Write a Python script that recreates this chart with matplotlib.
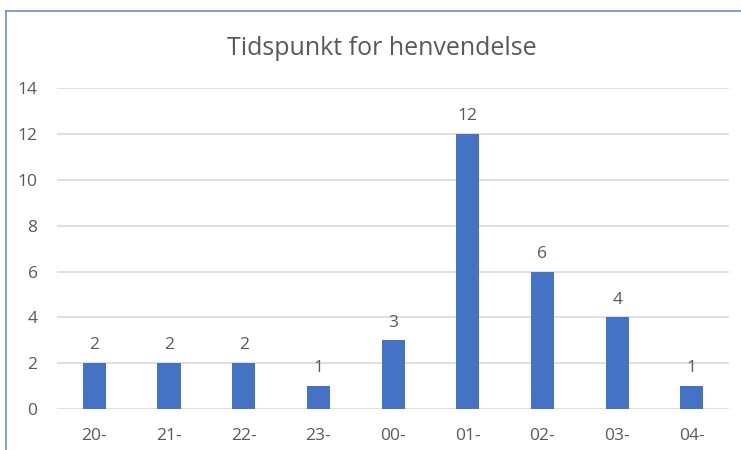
import matplotlib.pyplot as plt
from matplotlib.lines import Line2D

hours = ['20-', '21-', '22-', '23-', '00-', '01-', '02-', '03-', '04-']
counts = [2, 2, 2, 1, 3, 12, 6, 4, 1]

plt.rcParams['font.family'] = ['Open Sans', 'DejaVu Sans']
text_color = '#595959'

fig = plt.figure(figsize=(7.41, 4.5), dpi=100)
ax = fig.add_axes([0.077, 0.091, 0.907, 0.713])

x = range(len(hours))
bars = ax.bar(x, counts, width=0.31, color='#4472C4', zorder=3)
ax.bar_label(bars, padding=7, fontsize=12.5, color=text_color)

ax.set_xlim(-0.5, len(hours) - 0.5)
ax.set_ylim(0, 14)
ax.set_yticks(range(0, 15, 2))
ax.set_xticks(list(x))
ax.set_xticklabels(hours)
ax.tick_params(axis='both', length=0, labelsize=12.5, colors=text_color)
ax.tick_params(axis='x', pad=14)
ax.tick_params(axis='y', pad=14)
ax.grid(axis='y', color='#D9D9D9', linewidth=1.2, zorder=0)
for s in ax.spines.values():
    s.set_visible(False)

fig.text(0.515, 0.893, 'Tidspunkt for henvendelse', ha='center', va='center',
         fontsize=18, color=text_color)

# chart frame (left and top edges visible in the screenshot)
fig.add_artist(Line2D([6 / 741, 6 / 741], [0, 1 - 11 / 450], color='#6A8FD0', linewidth=1.2))
fig.add_artist(Line2D([6 / 741, 1], [1 - 11 / 450, 1 - 11 / 450], color='#6A8FD0', linewidth=1.2))

fig.savefig('out.png', dpi=100)
